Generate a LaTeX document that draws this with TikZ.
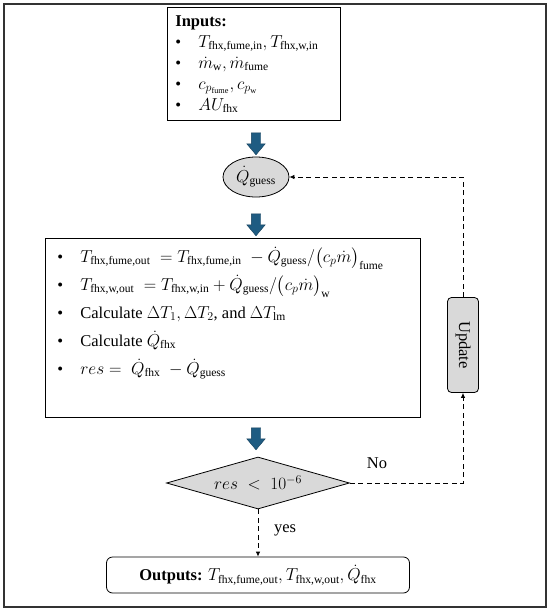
\documentclass[tikz,border=0pt]{standalone}
\usepackage{amsmath}
\usepackage{fontspec}
\setmainfont{Liberation Serif}
\usetikzlibrary{arrows.meta,shapes.geometric,shapes.arrows}
\definecolor{flowblue}{RGB}{31,92,130}
\newcommand{\tx}[1]{\text{#1}}
\newcommand{\bul}{\makebox[23pt][l]{\textbullet}}

\begin{document}
\begin{tikzpicture}[x=1pt,y=-1pt,>={Latex[length=5pt,width=4.5pt]},every node/.style={font=\fontsize{16.5}{21}\selectfont},box/.style={draw,thick,fill=white},blockarrow/.style={single arrow,draw=flowblue!70!black,fill=flowblue,rotate=-90,minimum height=22,minimum width=0,inner xsep=0,inner ysep=4.5,single arrow head extend=4.5,single arrow tip angle=80},link/.style={->,thick,dash pattern=on 5pt off 3.5pt},grey/.style={draw,thick,fill=gray!30}]
\useasboundingbox (0,0) rectangle (550,613);
\draw[line width=1.5,black!80] (4,4) rectangle (546,607);
% inputs and first guess
\node[box,anchor=north west,text width=157,align=left,inner xsep=8,minimum height=113] (inp) at (167,7) {\textbf{Inputs:}\\\bul$T_{\tx{fhx,fume,in}}, T_{\tx{fhx,w,in}}$\\\bul$\dot m_{\tx{w}}, \dot m_{\tx{fume}}$\\\bul$c_{p_{\tx{fume}}}, c_{p_{\tx{w}}}$\\\bul$AU_{\tx{fhx}}$};
\node[blockarrow] (a1) at (256,141) {};
\node[ellipse,grey,minimum width=66,minimum height=40,inner sep=1] (guess) at (256,177) {$\dot Q_{\tx{guess}}$};
\node[blockarrow] (a2) at (256,222) {};
% calculation block
\node[box,anchor=north west,inner sep=0] (calc) at (45,238) {\parbox[c][179pt][t]{375pt}{\fontsize{16.5}{28}\selectfont\leftskip=12pt
\rule{0pt}{24pt}\bul$T_{\tx{fhx,fume,out}}\;=T_{\tx{fhx,fume,in}}\;-\dot Q_{\tx{guess}}/\bigl(c_p\dot m\bigr)_{\tx{fume}}$\\
\bul$T_{\tx{fhx,w,out}}\;=T_{\tx{fhx,w,in}}+\dot Q_{\tx{guess}}/\bigl(c_p\dot m\bigr)_{\tx{w}}$\\
\bul Calculate $\Delta T_1, \Delta T_2$, and $\Delta T_{\tx{lm}}$\\
\bul Calculate $\dot Q_{\tx{fhx}}$\\
\bul$res=\;\dot Q_{\tx{fhx}}\;-\dot Q_{\tx{guess}}$}};
\node[blockarrow] (a3) at (256,436) {};
% convergence check
\node[diamond,grey,aspect=3.5,minimum width=183,minimum height=52,inner sep=0] (check) at (258,483) {$res\;<\;10^{-6}$};
\node[grey,rounded corners=4,minimum width=31,minimum height=95,inner sep=0] (upd) at (463,345) {\rotatebox{-90}{Update}};
\node[draw,thick,rounded corners=6,minimum width=303,minimum height=36] (out) at (258,575) {\textbf{Outputs:} $T_{\tx{fhx,fume,out}}, T_{\tx{fhx,w,out}}, \dot Q_{\tx{fhx}}$};
\draw[link] (check.east) -- (check.east -| upd.south) -- (upd.south);
\draw[link] (upd.north) |- (guess.east);
\draw[link] (check.south) -- (out.north);
\node at (377,463) {No};
\node at (285,530) {yes};
\end{tikzpicture}
\end{document}
